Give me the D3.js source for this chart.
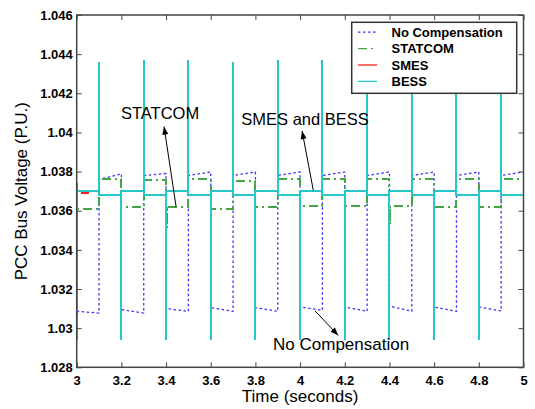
<!DOCTYPE html>
<html><head><meta charset="utf-8">
<script src="https://cdn.jsdelivr.net/npm/d3@7"></script>
<style>body{margin:0;background:#fff}svg{display:block}</style>
</head><body><svg id="c" width="535" height="409"></svg>
<script>
// ---- data ----
const xTicks = [3, 3.2, 3.4, 3.6, 3.8, 4, 4.2, 4.4, 4.6, 4.8, 5];
const xTickLabels = ["3","3.2","3.4","3.6","3.8","4","4.2","4.4","4.6","4.8","5"];
const yTicks = [1.028,1.030,1.032,1.034,1.036,1.038,1.040,1.042,1.044,1.046];
const yTickLabels = ["1.028","1.03","1.032","1.034","1.036","1.038","1.04","1.042","1.044","1.046"];

const segStart = [3.0,3.1,3.2,3.3,3.4,3.5,3.6,3.7,3.8,3.9,4.0,4.1,4.2,4.3,4.4,4.5,4.6,4.7,4.8,4.9];
const segEnd   = [3.1,3.2,3.3,3.4,3.5,3.6,3.7,3.8,3.9,4.0,4.1,4.2,4.3,4.4,4.5,4.6,4.7,4.8,4.9,5.0];

// No Compensation: level at start / end of each segment
const noCompStart = [1.03086,1.03760,1.03095,1.03780,1.03100,1.03780,1.03105,1.03780,1.03105,1.03780,
                     1.03108,1.03780,1.03108,1.03780,1.03113,1.03780,1.03108,1.03780,1.03108,1.03780];
const noCompEnd   = [1.03077,1.03788,1.03077,1.03790,1.03086,1.03798,1.03086,1.03798,1.03086,1.03798,
                     1.03091,1.03798,1.03086,1.03798,1.03086,1.03798,1.03086,1.03798,1.03088,1.03798];

// STATCOM: level in each segment, plus short transients
const statcomLevel = [1.0361,1.0376,1.0362,1.03756,1.0362,1.0376,1.0361,1.0375,1.0362,1.0376,
                      1.03625,1.0376,1.03625,1.0376,1.03625,1.0376,1.0362,1.0376,1.0362,1.0376];
const statcomSpikeTime  = [3.0, 3.1, 3.403, 4.403, 4.803];
const statcomSpikeValue = [1.0374, 1.0383, 1.0351, 1.0353, 1.0357];

// SMES: only differs visibly from BESS in the initial dip (rest lies under BESS)
const smesDipTime  = [3.02, 3.055];
const smesDipValue = 1.03688;

// BESS: level in each segment and the spike at each segment start
const bessLevel = [1.0370,1.0368,1.0370,1.0368,1.0370,1.0368,1.0370,1.0368,1.0370,1.0368,
                   1.0370,1.0368,1.0370,1.0368,1.0370,1.0368,1.0370,1.0368,1.0370,1.0368];
const bessSpike = [1.0294,1.0436,1.0294,1.0437,1.0294,1.0437,1.0294,1.0436,1.0294,1.0437,
                   1.0294,1.0437,1.0294,1.0436,1.0294,1.0436,1.0294,1.0436,1.0294,1.0436];
const bessEndValue = 1.0378;

const seriesNames = ["No Compensation","STATCOM","SMES","BESS"];

// ---- layout ----
const svg = d3.select("#c");
const x = d3.scaleLinear().domain([3,5]).range([76.7,523.5]);
const y = d3.scaleLinear().domain([1.028,1.046]).range([367.3,15]);
const font = "Arial, 'Liberation Sans', sans-serif";

// build point lists
const noCompPts = [];
segStart.forEach((t,i)=>{ noCompPts.push([t,noCompStart[i]]); noCompPts.push([segEnd[i],noCompEnd[i]]); });

const statcomPts = [];
segStart.forEach((t,i)=>{
  const L = statcomLevel[i];
  statcomPts.push([t,L]);
  statcomSpikeTime.forEach((ts,k)=>{
    if (ts>=t-1e-9 && ts<segEnd[i]-1e-9){ statcomPts.push([ts,L],[ts,statcomSpikeValue[k]],[ts,L]); }
  });
  statcomPts.push([segEnd[i],L]);
});

const smesPts = [[smesDipTime[0],smesDipValue],[smesDipTime[1],smesDipValue]];

const bessPts = [];
segStart.forEach((t,i)=>{
  bessPts.push([t,bessSpike[i]]);
  bessPts.push([t,bessLevel[i]]);
  bessPts.push([segEnd[i],bessLevel[i]]);
});
bessPts.push([5.0,bessEndValue]);

const line = d3.line().x(d=>x(d[0])).y(d=>y(d[1]));

const styles = [
  {color:"#3535ff", dash:"2.5,2.5", width:1.3, crisp:false},
  {color:"#45a545", dash:"9,4,2,4", width:2, crisp:true},
  {color:"#ff2020", dash:null, width:2, crisp:true},
  {color:"#28c6c6", dash:null, width:2, crisp:true}
];
const allPts = [noCompPts, statcomPts, smesPts, bessPts];

svg.append("clipPath").attr("id","pc").append("rect")
  .attr("x",x(3)).attr("y",y(1.046)).attr("width",x(5)-x(3)).attr("height",y(1.028)-y(1.046));
const plot = svg.append("g").attr("clip-path","url(#pc)");
allPts.forEach((pts,i)=>{
  plot.append("path").datum(pts).attr("d",line).attr("fill","none")
    .attr("stroke",styles[i].color).attr("stroke-width",styles[i].width)
    .attr("stroke-dasharray",styles[i].dash)
    .attr("shape-rendering",styles[i].crisp?"crispEdges":null);
});

// ---- axes ----
const axColor = "#444";
function styleAxis(g){
  g.select(".domain").remove();
  g.selectAll(".tick line").attr("stroke",axColor).attr("stroke-width",1);
  g.selectAll("text").attr("font-family",font).attr("font-weight","bold").attr("font-size","13px").attr("fill","#000");
}
svg.append("g").attr("transform",`translate(0,${y(1.028)})`)
  .call(d3.axisBottom(x).tickValues(xTicks).tickFormat((d,i)=>xTickLabels[i]).tickSizeInner(-5).tickSizeOuter(0).tickPadding(8))
  .call(styleAxis);
svg.append("g").attr("transform",`translate(0,${y(1.046)})`)
  .call(d3.axisTop(x).tickValues(xTicks).tickFormat("").tickSizeInner(-5).tickSizeOuter(0))
  .call(styleAxis);
svg.append("g").attr("transform",`translate(${x(3)},0)`)
  .call(d3.axisLeft(y).tickValues(yTicks).tickFormat((d,i)=>yTickLabels[i]).tickSizeInner(-5).tickSizeOuter(0).tickPadding(4))
  .call(styleAxis);
svg.append("g").attr("transform",`translate(${x(5)},0)`)
  .call(d3.axisRight(y).tickValues(yTicks).tickFormat("").tickSizeInner(-5).tickSizeOuter(0))
  .call(styleAxis);
svg.append("rect").attr("x",x(3)).attr("y",y(1.046)).attr("width",x(5)-x(3)).attr("height",y(1.028)-y(1.046))
  .attr("fill","none").attr("stroke",axColor).attr("stroke-width",1.5);

// axis titles
svg.append("text").attr("x",(x(3)+x(5))/2).attr("y",402).attr("text-anchor","middle")
  .attr("font-family",font).attr("font-size","17px").text("Time (seconds)");
svg.append("text").attr("transform",`translate(27,${(y(1.028)+y(1.046))/2}) rotate(-90)`).attr("text-anchor","middle")
  .attr("font-family",font).attr("font-size","17px").text("PCC Bus Voltage (P.U.)");

// ---- annotations ----
const notes = [
  {text:"STATCOM", t:3.198, v:1.04068, size:16.5},
  {text:"SMES and BESS", t:3.737, v:1.04037, size:16.5},
  {text:"No Compensation", t:3.879, v:1.02886, size:17}
];
notes.forEach(n=>svg.append("text").attr("x",x(n.t)).attr("y",y(n.v)).attr("font-family",font)
  .attr("font-size",n.size+"px").attr("fill","#000").text(n.text));

const arrows = [
  {from:[3.445,1.0362], to:[3.391,1.0403]},
  {from:[4.059,1.03705], to:[4.009,1.04007]},
  {from:[4.067,1.03088], to:[4.171,1.02963]}
];
arrows.forEach(a=>{
  const x1=x(a.from[0]), y1=y(a.from[1]), x2=x(a.to[0]), y2=y(a.to[1]);
  svg.append("line").attr("x1",x1).attr("y1",y1).attr("x2",x2).attr("y2",y2).attr("stroke","#000").attr("stroke-width",1);
  const ang = Math.atan2(y2-y1,x2-x1), L=8, W=3;
  const bx = x2-L*Math.cos(ang), by = y2-L*Math.sin(ang);
  const px = -Math.sin(ang)*W, py = Math.cos(ang)*W;
  svg.append("path").attr("d",`M${x2},${y2}L${bx+px},${by+py}L${bx-px},${by-py}Z`).attr("fill","#000");
});

// ---- legend ----
const lg = svg.append("g");
lg.append("rect").attr("x",351.7).attr("y",22.3).attr("width",165).attr("height",71)
  .attr("fill","#fff").attr("stroke","#333").attr("stroke-width",1.5);
seriesNames.forEach((name,i)=>{
  const by = 36.7 + i*16.4;
  lg.append("line").attr("x1",358).attr("x2",377).attr("y1",by-4.5).attr("y2",by-4.5)
    .attr("stroke",styles[i].color).attr("stroke-width",1.3).attr("stroke-dasharray",styles[i].dash);
  lg.append("text").attr("x",391.5).attr("y",by).attr("font-family",font).attr("font-weight","bold")
    .attr("font-size","13px").text(name);
});
</script></body></html>
